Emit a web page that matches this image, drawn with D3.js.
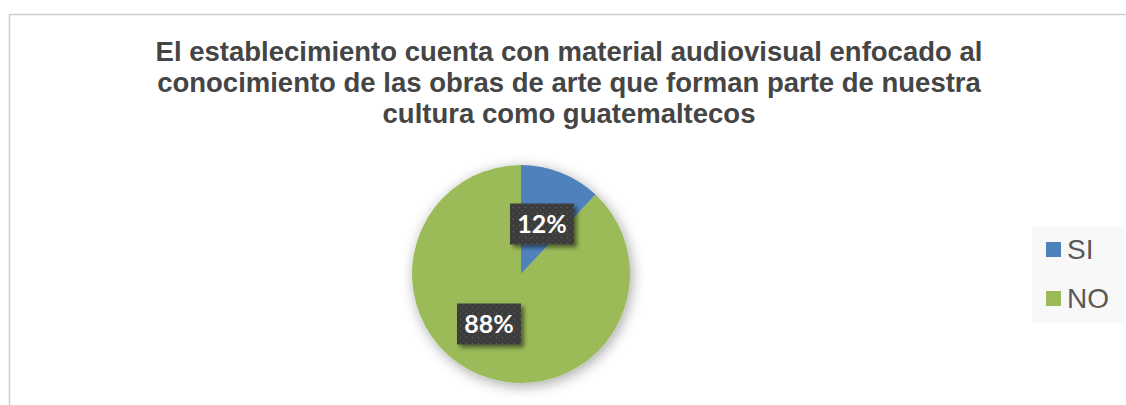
<!DOCTYPE html>
<html>
<head>
<meta charset="utf-8">
<script src="https://cdn.jsdelivr.net/npm/d3@7"></script>
<style>
  body { margin: 0; background: #fff; }
  svg { display: block; }
</style>
</head>
<body>
<div id="chart"></div>
<script>
let titleLines = [
  'El establecimiento cuenta con material audiovisual enfocado al',
  'conocimiento de las obras de arte que forman parte de nuestra',
  'cultura como guatemaltecos'
];
let categories = ['SI', 'NO'];
let values = [12, 88];
let colors = ['#4f81bd', '#9bbb59'];

let width = 1126, height = 405;
let cx = 521, cy = 274, radius = 109;

let svg = d3.select('#chart').append('svg')
  .attr('width', width)
  .attr('height', height);

let defs = svg.append('defs');

// soft shadow round the pie
let shadow = defs.append('filter')
  .attr('id', 'pieShadow')
  .attr('x', '-30%').attr('y', '-30%')
  .attr('width', '160%').attr('height', '160%');
shadow.append('feGaussianBlur').attr('in', 'SourceAlpha').attr('stdDeviation', 7).attr('result', 'b');
shadow.append('feOffset').attr('in', 'b').attr('dx', 2).attr('dy', 3).attr('result', 'o');
shadow.append('feComponentTransfer').attr('in', 'o').attr('result', 's')
  .append('feFuncA').attr('type', 'linear').attr('slope', 0.35);
let m1 = shadow.append('feMerge');
m1.append('feMergeNode').attr('in', 's');
m1.append('feMergeNode').attr('in', 'SourceGraphic');

let boxShadow = defs.append('filter')
  .attr('id', 'boxShadow')
  .attr('x', '-20%').attr('y', '-20%')
  .attr('width', '150%').attr('height', '160%');
boxShadow.append('feGaussianBlur').attr('in', 'SourceAlpha').attr('stdDeviation', 2).attr('result', 'b');
boxShadow.append('feOffset').attr('in', 'b').attr('dx', 3).attr('dy', 3).attr('result', 'o');
boxShadow.append('feComponentTransfer').attr('in', 'o').attr('result', 's')
  .append('feFuncA').attr('type', 'linear').attr('slope', 0.5);
let m2 = boxShadow.append('feMerge');
m2.append('feMergeNode').attr('in', 's');
m2.append('feMergeNode').attr('in', 'SourceGraphic');

// dotted dark fill of the data labels
let pat = defs.append('pattern')
  .attr('id', 'dots')
  .attr('patternUnits', 'userSpaceOnUse')
  .attr('width', 6).attr('height', 6);
pat.append('rect').attr('width', 6).attr('height', 6).attr('fill', '#3b3b3b');
pat.append('circle').attr('cx', 1.5).attr('cy', 1.5).attr('r', 0.9).attr('fill', '#555');
pat.append('circle').attr('cx', 4.5).attr('cy', 4.5).attr('r', 0.9).attr('fill', '#4a4a4a');

// frame of the chart area
svg.append('path')
  .attr('d', 'M9.5,' + height + ' V14.5 H' + width)
  .attr('fill', 'none')
  .attr('stroke', '#cfcfcf')
  .attr('stroke-width', 1.5);

// title
svg.append('g')
  .selectAll('text')
  .data(titleLines)
  .enter()
  .append('text')
  .attr('x', 569)
  .attr('y', function(d, i) { return 61 + i * 31; })
  .attr('text-anchor', 'middle')
  .style('font-family', '"Liberation Sans", Arial, sans-serif')
  .style('font-weight', 'bold')
  .style('font-size', '27.5px')
  .attr('fill', '#454545')
  .text(function(d) { return d; });

// pie
let pie = d3.pie().sort(null).value(function(d) { return d; });
let arcs = pie(values);
let arc = d3.arc().innerRadius(0).outerRadius(radius);

let g = svg.append('g')
  .attr('transform', 'translate(' + cx + ',' + cy + ')');

g.append('g')
  .attr('filter', 'url(#pieShadow)')
  .selectAll('path')
  .data(arcs)
  .enter()
  .append('path')
  .attr('d', arc)
  .attr('fill', function(d, i) { return colors[i]; });

// data labels
let labelPos = [[21, -50], [-32, 50]];
let lbl = g.selectAll('.lbl')
  .data(arcs)
  .enter()
  .append('g')
  .attr('class', 'lbl')
  .attr('transform', function(d, i) {
    return 'translate(' + labelPos[i][0] + ',' + labelPos[i][1] + ')';
  });

lbl.append('rect')
  .attr('x', -32).attr('y', -20.5)
  .attr('width', 64).attr('height', 41)
  .attr('fill', 'url(#dots)')
  .attr('filter', 'url(#boxShadow)');

lbl.append('text')
  .attr('text-anchor', 'middle')
  .attr('dy', '0.37em')
  .style('font-family', 'Lato, "Open Sans", sans-serif')
  .style('font-weight', 'bold')
  .style('font-size', '25px')
  .attr('fill', '#fff')
  .text(function(d) { return d.data + '%'; });

// legend
svg.append('rect')
  .attr('x', 1032).attr('y', 226)
  .attr('width', 92).attr('height', 97)
  .attr('fill', '#f8f8f8');

let leg = svg.selectAll('.leg')
  .data(categories)
  .enter()
  .append('g')
  .attr('class', 'leg')
  .attr('transform', function(d, i) { return 'translate(1046,' + (242 + i * 49) + ')'; });

leg.append('rect')
  .attr('width', 15).attr('height', 15)
  .attr('fill', function(d, i) { return colors[i]; });

leg.append('text')
  .attr('x', 21)
  .attr('y', 17)
  .style('font-family', '"Liberation Sans", Arial, sans-serif')
  .style('font-size', '28px')
  .attr('fill', '#595959')
  .text(function(d) { return d; });
</script>
</body>
</html>
